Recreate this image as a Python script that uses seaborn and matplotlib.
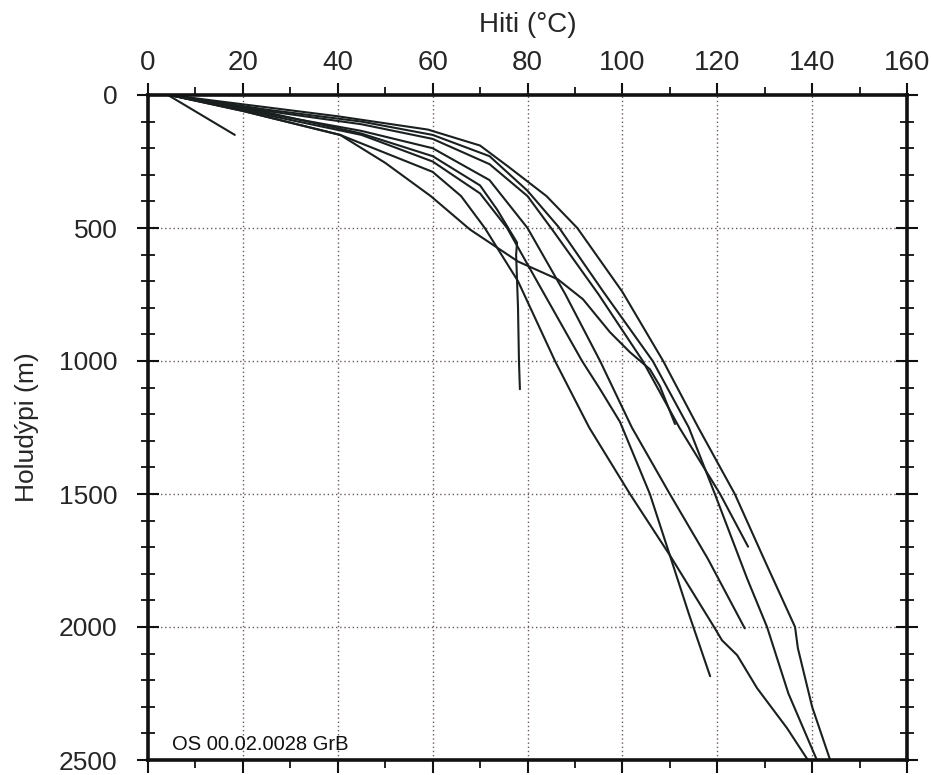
import matplotlib
matplotlib.use("Agg")
import matplotlib.pyplot as plt
import seaborn as sns
import pandas as pd
from matplotlib.ticker import MultipleLocator

# ---- data: temperature (°C) vs depth (m) for each well ----
c1_t = [4.2, 18.3]
c1_d = [0, 150]

c2_t = [4.5, 25, 45, 60, 70, 73.6, 77.8, 77.6, 78.0, 78.2, 78.4]
c2_d = [0, 65, 145, 230, 340, 431, 555, 600, 800, 1000, 1106]

c3_t = [4.5, 20, 40.5, 50, 59.6, 67.9, 78, 86.4, 91.7, 97.4, 101.6, 105.8, 107.9, 111.1]
c3_d = [0, 60, 150, 255, 380, 506, 626, 693, 768, 892, 967, 1031, 1094, 1237]

c4_t = [4.5, 25, 45, 60, 72, 80, 85.5, 95, 104.3, 112, 120.6, 126.5]
c4_d = [0, 60, 110, 165, 260, 380, 513, 750, 1000, 1250, 1500, 1698]

c5_t = [4.5, 25, 45, 60, 72, 80, 88, 95.3, 102, 110, 118, 125.8]
c5_d = [0, 70, 135, 200, 320, 500, 750, 1000, 1250, 1500, 1743, 2005]

c6_t = [4.5, 25, 45, 60, 70, 75.7, 82, 91.5, 95.3, 99.5, 105.8, 110, 114, 118.5]
c6_d = [0, 75, 150, 250, 370, 500, 700, 1000, 1106, 1229, 1500, 1730, 1950, 2185]

c7_t = [4.5, 20, 40.5, 60, 66, 71, 78, 85.8, 93, 101.6, 110, 119.5, 121, 124.2, 128.4, 134.7, 139.1]
c7_d = [0, 60, 150, 289, 380, 500, 700, 1000, 1250, 1500, 1730, 2005, 2050, 2106, 2230, 2380, 2500]

c8_t = [4.5, 25, 45, 60, 72, 80, 86.5, 96, 106.4, 114, 119.5, 126.3, 130.5, 135, 141]
c8_d = [0, 55, 100, 150, 230, 360, 495, 740, 1000, 1250, 1500, 1818, 2000, 2250, 2500]

c9_t = [4.5, 20, 40, 59, 70, 76, 84, 90.5, 100, 108.6, 116, 123.7, 130, 136.4, 137, 140, 143.8]
c9_d = [0, 35, 80, 130, 190, 270, 380, 500, 740, 1000, 1250, 1500, 1750, 2000, 2080, 2300, 2500]

curves = {
    "c1": (c1_t, c1_d), "c2": (c2_t, c2_d), "c3": (c3_t, c3_d),
    "c4": (c4_t, c4_d), "c5": (c5_t, c5_d), "c6": (c6_t, c6_d),
    "c7": (c7_t, c7_d), "c8": (c8_t, c8_d), "c9": (c9_t, c9_d),
}

x_ticks = [0, 20, 40, 60, 80, 100, 120, 140, 160]
y_ticks = [0, 500, 1000, 1500, 2000, 2500]
x_label = "Hiti (°C)"
y_label = "Holudýpi (m)"
stamp = "OS 00.02.0028 GrB"

rows = []
for name, (ts, ds) in curves.items():
    for i, (t, d) in enumerate(zip(ts, ds)):
        rows.append({"curve": name, "order": i, "T": t, "D": d})
df = pd.DataFrame(rows)

sns.set_theme(style="white")
plt.rcParams["font.family"] = ["Liberation Sans", "DejaVu Sans"]

fig = plt.figure(figsize=(9.31, 7.75), dpi=100)
ax = fig.add_axes([148 / 931, 1 - 760 / 775, (907 - 148) / 931, (760 - 95) / 775])

sns.lineplot(data=df, x="T", y="D", units="curve", estimator=None, sort=False,
             color="#1a1f1f", linewidth=1.5, ax=ax, legend=False)

ax.set_xlim(0, 160)
ax.set_ylim(2500, 0)
ax.set_xticks(x_ticks)
ax.set_yticks(y_ticks)
ax.xaxis.set_minor_locator(MultipleLocator(10))
ax.yaxis.set_minor_locator(MultipleLocator(100))

ax.xaxis.set_label_position("top")
ax.set_xlabel(x_label, fontsize=20, labelpad=13)
ax.set_ylabel(y_label, fontsize=19, labelpad=14)

ax.tick_params(axis="x", which="both", top=True, bottom=True, labeltop=True,
               labelbottom=False, direction="out", labelsize=20, pad=5, color="#111")
ax.tick_params(axis="x", which="major", length=9, width=1.5)
ax.tick_params(axis="x", which="minor", length=6, width=1.3)
ax.tick_params(axis="y", which="both", left=True, right=True, labelleft=True,
               direction="inout", labelsize=19, pad=14, color="#111")
ax.tick_params(axis="y", which="major", length=16, width=1.5)
ax.tick_params(axis="y", which="minor", length=10, width=1.3)

for s in ax.spines.values():
    s.set_visible(True)
    s.set_linewidth(2.6)
    s.set_color("#111")

ax.grid(True, which="major", linestyle=(0, (1, 2)), linewidth=1.0, color="#6a5a60")

ax.text(5, 2440, stamp, fontsize=14.5, color="#111", va="center", ha="left")

fig.savefig("out.png", dpi=100)
